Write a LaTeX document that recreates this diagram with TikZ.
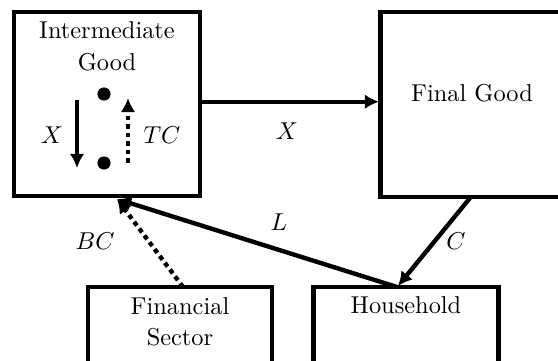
\documentclass[tikz,border=0pt]{standalone}
\usetikzlibrary{arrows.meta}
\begin{document}
\begin{tikzpicture}[x=0.41pt,y=-0.41pt,
  box/.style={draw, line width=1.8pt, rectangle, inner sep=0pt},
  conn/.style={line width=1.8pt, -{Latex[length=5.8pt,width=6pt]}},
  dotconn/.style={conn, dash pattern=on 1.9pt off 1.6pt},
  txt/.style={anchor=base, inner sep=0pt},
  lbl/.style={inner sep=0pt},
  dot/.style={circle, fill, inner sep=0pt, minimum size=5.4pt}]
\useasboundingbox (0,0) rectangle (558,361);
\clip (0,0) rectangle (558,361);
% boxes
\node[box, minimum width=76.3pt, minimum height=75.4pt] (IG) at (107,104) {};
\node[box, minimum width=75.0pt, minimum height=75.8pt] (FG) at (472,104.5) {};
\node[box, minimum width=75.6pt, minimum height=42pt] (FS) at (180,338) {};
\node[box, minimum width=76.0pt, minimum height=42pt] (HH) at (406,338) {};
% texts
\node[txt] (IGa) at (107,38) {Intermediate};
\node[txt] (IGb) at (107,70) {Good};
\node[txt] (FGa) at (472,101.7) {Final Good};
\node[txt] (FSa) at (180,314) {Financial};
\node[txt] (FSb) at (180,345) {Sector};
\node[txt] (HHa) at (406,313) {Household};
% inner dots
\node[dot] (d1) at (104,94) {};
\node[dot] (d2) at (104,163) {};
% connector end points
\coordinate (xs) at (199.5,101.7);
\coordinate (xe) at (379,101.7);
\coordinate (cs) at (470,198);
\coordinate (ce) at (398,286);
\coordinate (ls) at (397,287);
\coordinate (le) at (117,199);
\coordinate (bs) at (183,287);
\coordinate (ixs) at (77,100);
\coordinate (ixe) at (77,168);
\coordinate (tcs) at (128,163);
\coordinate (tce) at (128,98);
% connectors
\draw[conn] (xs) -- (xe);
\draw[conn] (cs) -- (ce);
\draw[conn] (ls) -- (le);
\draw[dotconn] (bs) -- (le);
\draw[conn] (ixs) -- (ixe);
\draw[dotconn] (tcs) -- (tce);
% labels
\node[lbl] (lx) at (287,131) {$X$};
\node[lbl] (ll) at (279,222) {$L$};
\node[lbl] (lc) at (456,241) {$C$};
\node[lbl] (lbc) at (95,241) {$BC$};
\node[lbl] (lix) at (52,135) {$X$};
\node[lbl] (ltc) at (162,135) {$TC$};
\end{tikzpicture}
\end{document}
